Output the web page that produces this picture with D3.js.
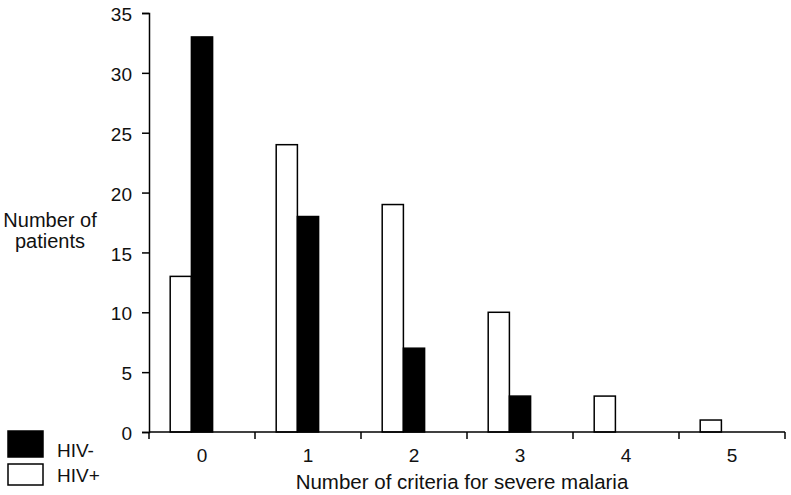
<html>
<head>
<script src="https://d3js.org/d3.v7.min.js"></script>
<style>
  body { margin: 0; background: #fff; }
  svg text { font-family: "Liberation Sans", Arial, sans-serif; fill: #111; }
</style>
</head>
<body>
<script>
// criteria counts and patient numbers
var categories = ["0", "1", "2", "3", "4", "5"];
var hivPos = [13, 24, 19, 10, 3, 1];
var hivNeg = [33, 18, 7, 3, 0, 0];
var yTicks = [0, 5, 10, 15, 20, 25, 30, 35];

var width = 791, height = 495;
var x0 = 149, x1 = 785, yTop = 13, yBottom = 432;

var svg = d3.select("body").append("svg")
  .attr("width", width)
  .attr("height", height);

var x = d3.scaleBand().domain(categories).range([x0, x1]);
// three slots per band (the third one is empty, like the original)
var slot = d3.scaleBand().domain(["pos", "neg", "none"]).range([0, x.bandwidth()]).padding(0).paddingOuter(1);
var y = d3.scaleLinear().domain([0, 35]).range([yBottom, yTop]);

// bars
var g = svg.append("g");
g.selectAll("rect.pos").data(hivPos).enter().append("rect")
  .attr("x", function(d, i) { return x(categories[i]) + slot("pos"); })
  .attr("y", function(d) { return y(d); })
  .attr("width", slot.bandwidth())
  .attr("height", function(d) { return y(0) - y(d); })
  .attr("fill", "#fff").attr("stroke", "#000").attr("stroke-width", 1.5);

g.selectAll("rect.neg").data(hivNeg).enter().append("rect")
  .attr("x", function(d, i) { return x(categories[i]) + slot("neg"); })
  .attr("y", function(d) { return y(d); })
  .attr("width", slot.bandwidth())
  .attr("height", function(d) { return y(0) - y(d); })
  .attr("fill", "#000").attr("stroke", "#000").attr("stroke-width", 1.5);

// y axis
var yAxis = svg.append("g")
  .attr("transform", "translate(" + x0 + ",0)")
  .call(d3.axisLeft(y).tickValues(yTicks).tickSize(7).tickPadding(10));
yAxis.select(".domain").attr("stroke-width", 1.5);
yAxis.selectAll(".tick line").attr("stroke-width", 1.5);
yAxis.selectAll("text").style("font-size", "19px").attr("dy", "0.4em");

// x axis, ticks between categories
var xAxis = svg.append("g")
  .attr("transform", "translate(0," + yBottom + ")");
xAxis.append("line")
  .attr("x1", x0).attr("x2", x1)
  .attr("stroke", "#000").attr("stroke-width", 1.5);
var bounds = categories.map(function(c) { return x(c); }).concat([x1]);
xAxis.selectAll("line.tk").data(bounds).enter().append("line")
  .attr("x1", function(d) { return d; }).attr("x2", function(d) { return d; })
  .attr("y1", 0).attr("y2", 7)
  .attr("stroke", "#000").attr("stroke-width", 1.5);
xAxis.selectAll("text").data(categories).enter().append("text")
  .attr("x", function(d) { return x(d) + x.bandwidth() / 2; })
  .attr("y", 30)
  .attr("text-anchor", "middle")
  .style("font-size", "19px")
  .text(function(d) { return d; });

// axis titles
svg.append("text")
  .attr("x", 462).attr("y", 489)
  .attr("text-anchor", "middle")
  .style("font-size", "20.5px")
  .text("Number of criteria for severe malaria");

var yt = svg.append("text").attr("text-anchor", "middle").style("font-size", "20px");
yt.append("tspan").attr("x", 50).attr("y", 227).text("Number of");
yt.append("tspan").attr("x", 50).attr("y", 248).text("patients");

// legend
svg.append("rect").attr("x", 8).attr("y", 431).attr("width", 35).attr("height", 26)
  .attr("fill", "#000").attr("stroke", "#000").attr("stroke-width", 1.5);
svg.append("rect").attr("x", 8).attr("y", 464).attr("width", 35).attr("height", 21)
  .attr("fill", "#fff").attr("stroke", "#000").attr("stroke-width", 1.5);
svg.append("text").attr("x", 57).attr("y", 457).style("font-size", "19px").text("HIV-");
svg.append("text").attr("x", 57).attr("y", 482).style("font-size", "19px").text("HIV+");
</script>
</body>
</html>
